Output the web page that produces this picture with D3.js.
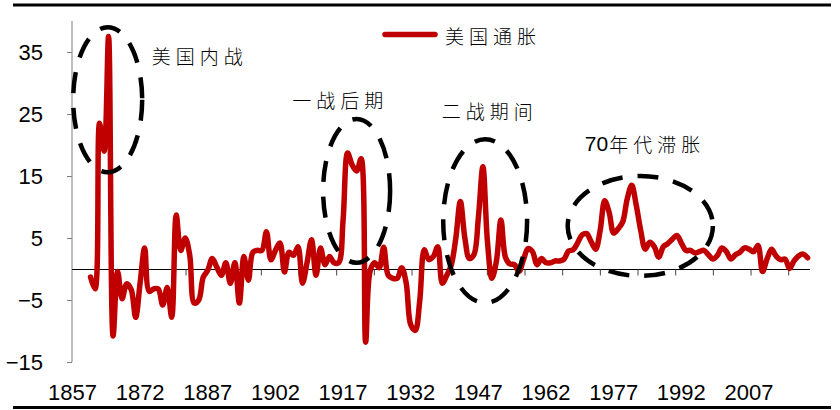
<!DOCTYPE html>
<html>
<head>
<meta charset="utf-8">
<script src="https://cdn.jsdelivr.net/npm/d3@7/dist/d3.min.js"></script>
<style>
  html, body { margin: 0; padding: 0; background: #fff; }
  svg { display: block; }
  .num { font-family: "Liberation Sans", Arial, sans-serif; font-size: 22px; fill: #000; }
  .cjk { font-family: "Noto Sans CJK SC", sans-serif; font-size: 19px; font-weight: 300; fill: #000; letter-spacing: 5px; }
  .digits { font-family: "Liberation Sans", Arial, sans-serif; font-size: 21px; letter-spacing: 0; }
</style>
</head>
<body>
<svg id="chart" width="840" height="410"></svg>
<script>
// US CPI inflation, % per year, 1861–2020
const firstYear = 1861;
const inflation = [
  -1.3, -3.2, 23.5, 19.0, 37.5, -10.8, -0.4, -4.8, -2.4, -3.3,
  -7.8, -2.2, 3.4, -3.6, -3.2, -3.2, -5.8, -3.0, -7.8, 8.7,
  3.0, 5.0, 2.2, -5.5, -5.0, -1.3, -0.2, 1.7, 0.3, -1.0,
  1.0, -2.3, 1.0, -5.5, 2.0, -1.8, 2.7, 3.0, 3.0, 6.0,
  1.5, 3.0, 4.2, -0.5, 2.7, 2.2, 3.6, -2.3, 1.0, 4.7,
  -1.0, 3.4, 0.7, 2.0, 1.0, 1.0, 7.9, 18.7, 16.8, 15.8,
  17.8, -11.8, -0.3, 1.0, 0.2, 3.5, -1.0, -1.5, -1.5, 0.2,
  -2.3, -9.0, -9.9, -5.1, 3.1, 1.5, 2.0, 3.6, -2.3, -1.0,
  0.7, 5.0, 10.9, 5.0, 1.7, 2.3, 8.3, 16.5, 4.5, -1.5,
  1.3, 7.9, 1.9, 0.8, 0.7, -0.4, 1.5, 3.3, 2.8, 0.7,
  1.7, 1.0, 1.0, 1.3, 1.3, 1.6, 2.9, 3.1, 4.2, 5.5,
  5.7, 4.4, 3.2, 6.2, 11.0, 9.1, 5.8, 6.5, 7.6, 11.3,
  13.5, 10.3, 6.2, 3.2, 4.3, 3.6, 1.9, 3.6, 4.1, 4.8,
  5.4, 4.2, 3.0, 3.0, 2.6, 2.8, 3.0, 2.3, 1.6, 2.2,
  3.4, 2.8, 1.6, 2.3, 2.7, 3.4, 3.2, 2.8, 3.8, -0.4,
  1.6, 3.2, 2.1, 1.5, 1.6, 0.1, 1.3, 2.1, 2.4, 1.8
];

const yTicks = [-15, -5, 5, 15, 25, 35];
const xTickLabels = [1857, 1872, 1887, 1902, 1917, 1932, 1947, 1962, 1977, 1992, 2007];
const seriesName = "美国通胀";

// highlighted episodes: centre (year, %), radii (years, %); label text split into a numeric prefix and CJK part
const episodes = [
  { num: "",   label: "美国内战", cx: 1864.8, cy: 27.3, rx: 7.65, ry: 11.7, tx: 1874.6, ty: 34.5 },
  { num: "",   label: "一战后期", cx: 1920.0, cy: 12.6, rx: 7.43, ry: 11.6, tx: 1905.7, ty: 27.4 },
  { num: "",   label: "二战期间", cx: 1948.5, cy: 7.74, rx: 9.3,  ry: 13.2, tx: 1938.9, ty: 25.6 },
  { num: "70", label: "年代滞胀", cx: 1982.9, cy: 6.94, rx: 16.1, ry: 8.06, tx: 1970.6, ty: 20.3 }
];

const data = inflation.map((v, i) => ({ year: firstYear + i, value: v }));

const svg = d3.select("#chart");

const x = d3.scaleLinear().domain([1857, 2020]).range([72.5, 807.6]);
const y = d3.scaleLinear().domain([-15, 40]).range([362, 21]);

// frame rules top and bottom
svg.append("line").attr("x1", 13).attr("x2", 831).attr("y1", 5).attr("y2", 5)
  .attr("stroke", "#000").attr("stroke-width", 3);
svg.append("line").attr("x1", 13).attr("x2", 831).attr("y1", 407.5).attr("y2", 407.5)
  .attr("stroke", "#000").attr("stroke-width", 3);

// value axis
const yAxis = svg.append("g").attr("transform", `translate(${x(1857) - 0.5},0)`)
  .call(d3.axisLeft(y).tickValues(yTicks).tickSize(5).tickPadding(24).tickFormat(d3.format("d")));
yAxis.select(".domain").attr("stroke", "#7f7f7f").attr("d", `M0,${y(40)}V${y(-15)}`);
yAxis.selectAll(".tick line").attr("stroke", "#7f7f7f");
yAxis.selectAll(".tick text").attr("class", "num").attr("text-anchor", "end")
  .attr("x", -29).attr("dy", "0.36em");

// category axis along zero
const step = 37.67 / 4.51;
const minorTicks = d3.range(1, 20).map(k => 1857 + k * step);
const xAxis = svg.append("g").attr("transform", `translate(0,${Math.round(y(0)) + 0.5})`)
  .call(d3.axisBottom(x).tickValues(minorTicks).tickSize(6).tickFormat(""));
xAxis.select(".domain").attr("stroke", "#000").attr("d", `M${x(1857) - 0.5},0H${x(2020) + 2.5}`);
xAxis.selectAll(".tick line").attr("stroke", "#444");

svg.append("g").selectAll("text").data(xTickLabels).join("text")
  .attr("class", "num").attr("text-anchor", "middle")
  .attr("x", d => x(d)).attr("y", 400).text(d => d);

// inflation line
const line = d3.line().x(d => x(d.year)).y(d => y(d.value)).curve(d3.curveCatmullRom.alpha(0.5));
svg.append("path").datum(data).attr("d", line)
  .attr("fill", "none").attr("stroke", "#c00000").attr("stroke-width", 5.5)
  .attr("stroke-linejoin", "round").attr("stroke-linecap", "round");

// episode ellipses
svg.append("g").selectAll("ellipse").data(episodes).join("ellipse")
  .attr("cx", d => x(d.cx)).attr("cy", d => y(d.cy))
  .attr("rx", d => x(d.cx + d.rx) - x(d.cx)).attr("ry", d => y(d.cy - d.ry) - y(d.cy))
  .attr("fill", "none").attr("stroke", "#000").attr("stroke-width", 4.5)
  .attr("stroke-dasharray", "21 15");

const labels = svg.append("g").selectAll("text").data(episodes).join("text")
  .attr("class", "cjk").attr("x", d => x(d.tx)).attr("y", d => y(d.ty))
  .attr("dominant-baseline", "central");
labels.filter(d => d.num).append("tspan").attr("class", "digits").text(d => d.num);
labels.append("tspan").attr("dx", d => d.num ? 1 : 0).text(d => d.label);

// legend
const legend = svg.append("g");
legend.append("line").attr("x1", 385).attr("x2", 435).attr("y1", 34.5).attr("y2", 34.5)
  .attr("stroke", "#c00000").attr("stroke-width", 5.5).attr("stroke-linecap", "round");
legend.append("text").attr("class", "cjk").attr("x", 445).attr("y", 35)
  .attr("dominant-baseline", "central").text(seriesName);
</script>
</body>
</html>
